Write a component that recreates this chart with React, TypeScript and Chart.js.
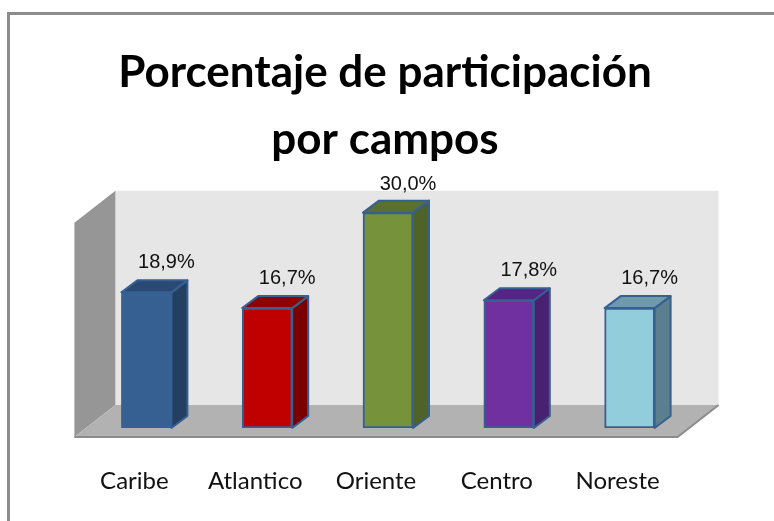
import React, { useEffect, useRef } from "react";
import { Chart, registerables } from "chart.js";

Chart.register(...registerables);

const categories = ["Caribe", "Atlantico", "Oriente", "Centro", "Noreste"];
const values = [18.9, 16.7, 30.0, 17.8, 16.7];
const frontColors = ["#366092", "#C00000", "#76933C", "#7030A0", "#92CDDC"];
const sideColors = ["#244061", "#7A0000", "#4F6228", "#4A2070", "#5B7F8E"];
const topColors = ["#2A4A75", "#900000", "#5A7030", "#552585", "#6F9AAB"];
const titleLines = ["Porcentaje de participación", "por campos"];

const DX = 16;
const DY = 12;

const fmt = (v: number) => v.toFixed(1).replace(".", ",") + "%";

const scene3d = {
  id: "scene3d",
  afterLayout(chart: any) {
    chart.titleBlock.left -= 6;
  },
  beforeDatasetsDraw(chart: any) {
    const { ctx } = chart;
    const y0 = chart.scales.y.getPixelForValue(0);
    const yMax = chart.scales.y.getPixelForValue(chart.scales.y.max);
    const meta = chart.getDatasetMeta(0);
    const fl = meta.data[0].x - 72;
    const fb = y0 + 9;
    const wx = 41;
    const wy = 32;
    const fr = meta.data[4].x + 48;
    const wallTop = yMax + 14;
    ctx.save();
    ctx.fillStyle = "#E6E6E6";
    ctx.fillRect(fl + wx, wallTop, fr + wx - (fl + wx), fb - wy - wallTop);
    ctx.fillStyle = "#969696";
    ctx.beginPath();
    ctx.moveTo(fl, wallTop + wy);
    ctx.lineTo(fl + wx, wallTop);
    ctx.lineTo(fl + wx, fb - wy);
    ctx.lineTo(fl, fb);
    ctx.closePath();
    ctx.fill();
    ctx.fillStyle = "#B2B2B2";
    ctx.beginPath();
    ctx.moveTo(fl, fb);
    ctx.lineTo(fl + wx, fb - wy);
    ctx.lineTo(fr + wx, fb - wy);
    ctx.lineTo(fr, fb);
    ctx.closePath();
    ctx.fill();
    ctx.strokeStyle = "#8C8C8C";
    ctx.lineWidth = 2;
    ctx.beginPath();
    ctx.moveTo(fl, fb);
    ctx.lineTo(fr, fb);
    ctx.lineTo(fr + wx, fb - wy);
    ctx.stroke();
    meta.data.forEach((bar: any, i: number) => {
      const l = bar.x - bar.width / 2;
      const r = bar.x + bar.width / 2;
      const t = bar.y;
      const b = bar.base;
      ctx.lineWidth = 2;
      ctx.strokeStyle = "#376092";
      ctx.lineJoin = "round";
      ctx.fillStyle = sideColors[i];
      ctx.beginPath();
      ctx.moveTo(r, t);
      ctx.lineTo(r + DX, t - DY);
      ctx.lineTo(r + DX, b - DY);
      ctx.lineTo(r, b);
      ctx.closePath();
      ctx.fill();
      ctx.stroke();
      ctx.fillStyle = topColors[i];
      ctx.beginPath();
      ctx.moveTo(l, t);
      ctx.lineTo(l + DX, t - DY);
      ctx.lineTo(r + DX, t - DY);
      ctx.lineTo(r, t);
      ctx.closePath();
      ctx.fill();
      ctx.stroke();
    });
    ctx.restore();
  },
  afterDatasetsDraw(chart: any) {
    const { ctx } = chart;
    const meta = chart.getDatasetMeta(0);
    ctx.save();
    ctx.font = '20px "Liberation Sans"';
    ctx.fillStyle = "#111111";
    ctx.textAlign = "center";
    ctx.textBaseline = "middle";
    meta.data.forEach((bar: any, i: number) => {
      const lift = i === 2 ? 28 : 30;
      ctx.fillText(fmt(values[i]), bar.x + 20, bar.y - lift);
    });
    ctx.restore();
  },
};

export default function App() {
  const ref = useRef<HTMLCanvasElement>(null);
  useEffect(() => {
    const chart = new Chart(ref.current as HTMLCanvasElement, {
      type: "bar",
      data: {
        labels: categories,
        datasets: [
          {
            data: values,
            backgroundColor: frontColors,
            borderColor: "#376092",
            borderWidth: 2,
            borderSkipped: false,
            barThickness: 50,
          },
        ],
      },
      options: {
        responsive: false,
        animation: false,
        layout: { padding: { left: 86, right: 84, top: 30, bottom: 0 } },
        plugins: {
          legend: { display: false },
          tooltip: { enabled: false },
          title: {
            display: true,
            text: titleLines,
            color: "#000000",
            font: { family: 'Lato', size: 44, weight: "bold", lineHeight: 1.52 },
            padding: { top: 9, bottom: 4 },
          },
        },
        scales: {
          x: {
            grid: { display: false },
            border: { display: false },
            afterFit(axis: any) {
              axis.height = 93;
            },
            ticks: {
              color: "#111111",
              padding: 31,
              labelOffset: -12,
              maxRotation: 0,
              font: { family: 'Lato', size: 24 },
            },
          },
          y: { display: false, min: 0, max: 35 },
        },
      },
      plugins: [scene3d],
    } as any);
    return () => chart.destroy();
  }, []);
  return (
    <div style={{ position: "absolute", left: 0, top: 0, width: 774, height: 521, background: "#fff" }}>
      <div style={{ position: "absolute", left: 7, top: 12, width: 767, height: 3, background: "#8C8C8C" }} />
      <div style={{ position: "absolute", left: 7, top: 12, width: 3, height: 509, background: "#8C8C8C" }} />
      <canvas ref={ref} width={774} height={521} style={{ position: "absolute", left: 0, top: 0, display: "block" }} />
    </div>
  );
}
